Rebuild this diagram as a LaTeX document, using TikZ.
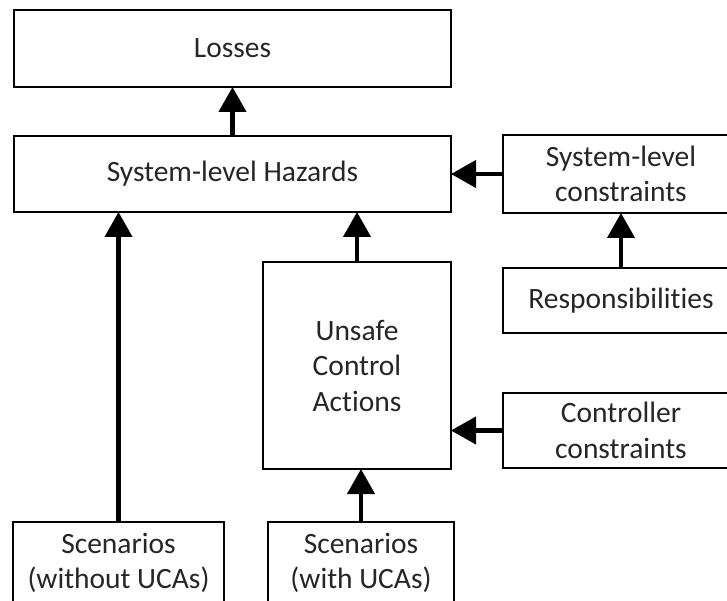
\documentclass[tikz,border=0pt]{standalone}
\usepackage{fontspec}
\setmainfont{Carlito}[Ligatures=NoCommon]
\usetikzlibrary{arrows.meta}
\begin{document}
\begin{tikzpicture}[x=1pt,y=-1pt,
  box/.style={draw=black, line width=2.8pt, inner sep=0pt, outer sep=0pt,
    align=center, text=black!85,
    font=\fontsize{29.5}{35.5}\selectfont},
  arr/.style={line width=4.2pt, -{Triangle[length=25pt,width=27pt]}}]
\useasboundingbox (0,0) rectangle (727,601);
\clip (0,0) rectangle (727,601);
\fill[white] (0,0) rectangle (727,601);

% left column and centre
\node[box, minimum width=437pt, minimum height=77pt] (loss) at (232.5,48.5) {Losses};
\node[box, minimum width=437pt, minimum height=76pt] (haz) at (232.5,174) {System-level Hazards};
\node[box, minimum width=188pt, minimum height=207pt] (uca) at (357,365.5) {Unsafe\\Control\\Actions};
\node[box, minimum width=211pt, minimum height=82pt] (scenw) at (118.5,563) {Scenarios\\(without UCAs)};
\node[box, minimum width=186pt, minimum height=82pt] (scenu) at (361,563) {Scenarios\\(with UCAs)};

% right column
\node[box, minimum width=236pt, minimum height=78pt] (syscon) at (621,174) {System-level\\constraints};
\node[box, minimum width=236pt, minimum height=65pt] (resp) at (621,300.5) {Responsibilities};
\node[box, minimum width=236pt, minimum height=75pt] (ctrl) at (621,430.5) {Controller\\constraints};

% connectors
\draw[arr] (haz.north) -- (loss.south);
\draw[arr] (syscon.west) -- (syscon.west -| haz.east);
\draw[arr] (resp.north) -- (resp.north |- syscon.south);
\draw[arr] (uca.north) -- (uca.north |- haz.south);
\draw[arr] (ctrl.west) -- (ctrl.west -| uca.east);
\draw[arr] (scenw.north) -- (scenw.north |- haz.south);
\draw[arr] (scenu.north) -- (scenu.north |- uca.south);
\end{tikzpicture}
\end{document}
